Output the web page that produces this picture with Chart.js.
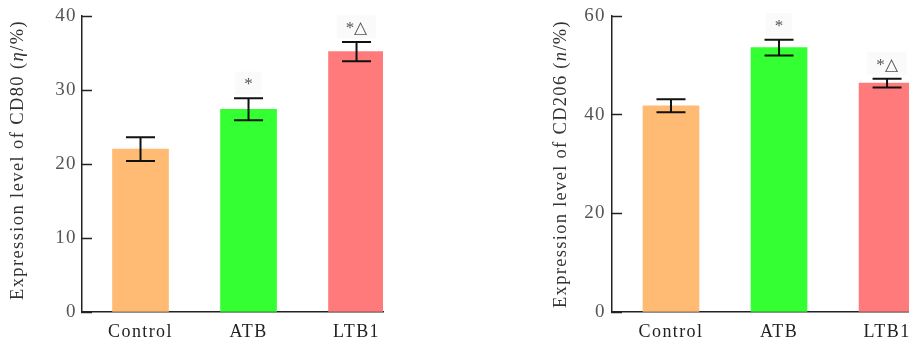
<!DOCTYPE html>
<html>
<head>
<meta charset="utf-8">
<script src="https://cdn.jsdelivr.net/npm/chart.js@4/dist/chart.umd.min.js"></script>
<style>
  html, body { margin: 0; padding: 0; background: #fff; overflow: hidden; }
  body { width: 909px; height: 344px; position: relative; }
  #boxL { position: absolute; left: 0; top: 0; width: 450px; height: 344px; }
  #boxR { position: absolute; left: 540px; top: 0; width: 400px; height: 344px; }
</style>
</head>
<body>
<div id="boxL"><canvas id="cd80"></canvas></div>
<div id="boxR"><canvas id="cd206"></canvas></div>
<script>
// Groups and measured expression levels (mean ± SD, %)
const groups = ['Control', 'ATB', 'LTB1'];
const barColors = ['#FFBB73', '#33FF33', '#FF7B7B'];

const cd80Mean = [22.0, 27.4, 35.2];
const cd80Err = [1.6, 1.5, 1.3];
const cd80Marks = ['', '*', '*△'];
const cd80Ticks = [0, 10, 20, 30, 40];

const cd206Mean = [41.8, 53.6, 46.4];
const cd206Err = [1.3, 1.6, 0.9];
const cd206Marks = ['', '*', '*△'];
const cd206Ticks = [0, 20, 40, 60];

const SERIF = '"Liberation Serif", "Times New Roman", serif';

// Wider glyph spacing for axis text
const spacing = {
  id: 'spacing',
  beforeLayout(chart) { chart.ctx.letterSpacing = '1.4px'; },
  beforeDraw(chart) { chart.ctx.letterSpacing = '1.4px'; }
};

// Error bars with caps, plus significance marks above them
const errorBars = {
  id: 'errorBars',
  afterDatasetsDraw(chart, args, o) {
    const { ctx, scales: { x, y } } = chart;
    ctx.save();
    ctx.letterSpacing = '0px';
    o.means.forEach((m, i) => {
      const cx = x.getPixelForValue(i);
      const top = y.getPixelForValue(m + o.errs[i]);
      const bot = y.getPixelForValue(m - o.errs[i]);
      ctx.strokeStyle = '#111';
      ctx.lineWidth = 2;
      ctx.beginPath();
      ctx.moveTo(cx, top); ctx.lineTo(cx, bot);
      ctx.moveTo(cx - o.cap / 2, top); ctx.lineTo(cx + o.cap / 2, top);
      ctx.moveTo(cx - o.cap / 2, bot); ctx.lineTo(cx + o.cap / 2, bot);
      ctx.stroke();
      const mark = o.marks[i];
      if (mark) {
        const ty = top - 15.5;
        ctx.font = '17px ' + SERIF;
        const w = ctx.measureText(mark).width;
        ctx.fillStyle = '#fafafa';
        ctx.fillRect(cx - w / 2 - 9, ty - 11, w + 18, 23);
        ctx.fillStyle = '#555';
        ctx.textAlign = 'center';
        ctx.textBaseline = 'middle';
        ctx.fillText(mark, cx, ty + 2);
      }
    });
    ctx.restore();
  }
};

// Rotated y-axis title with an italic symbol
const yTitle = {
  id: 'yTitle',
  afterDraw(chart, args, o) {
    const { ctx } = chart;
    ctx.save();
    ctx.fillStyle = '#333';
    ctx.textBaseline = 'middle';
    ctx.textAlign = 'left';
    ctx.letterSpacing = '0px';
    const fonts = [o.size + 'px ' + SERIF, 'italic ' + o.size + 'px ' + SERIF, o.size + 'px ' + SERIF];
    let natural = 0, chars = 0;
    o.parts.forEach((p, k) => { ctx.font = fonts[k]; natural += ctx.measureText(p).width; chars += p.length; });
    const ls = (o.length - natural) / chars;
    ctx.letterSpacing = ls + 'px';
    ctx.translate(o.x, o.y);
    ctx.rotate(-Math.PI / 2);
    let pos = -o.length / 2;
    o.parts.forEach((p, k) => {
      ctx.font = fonts[k];
      ctx.fillText(p, pos, 0);
      pos += ctx.measureText(p).width;
    });
    ctx.restore();
  }
};

function buildChart(id, means, errs, marks, yTicks, opt) {
  return new Chart(document.getElementById(id), {
    type: 'bar',
    data: {
      datasets: [{
        data: groups.map((g, i) => ({ x: i, y: means[i] })),
        backgroundColor: barColors,
        borderWidth: 0,
        barThickness: 56
      }]
    },
    options: {
      responsive: true,
      maintainAspectRatio: false,
      animation: false,
      events: [],
      layout: { padding: { top: 16, right: opt.padRight, bottom: 0, left: 0 } },
      plugins: {
        legend: { display: false },
        tooltip: { enabled: false },
        errorBars: { means, errs, marks, cap: 29 },
        yTitle: opt.title
      },
      scales: {
        x: {
          type: 'linear',
          offset: false,
          bounds: 'ticks',
          min: opt.xMin,
          max: opt.xMax,
          afterBuildTicks(s) { s.ticks = groups.map((g, i) => ({ value: i })); },
          afterFit(s) { s.height = 32; s.paddingLeft = 0; s.paddingRight = 0; },
          grid: { display: false, drawTicks: false, offset: false },
          border: { display: true, color: '#222', width: 1.5 },
          ticks: {
            autoSkip: false,
            maxRotation: 0,
            padding: 9,
            color: '#222',
            font: { family: SERIF, size: 18 },
            callback: (v) => groups[v]
          }
        },
        y: {
          min: yTicks[0],
          max: yTicks[yTicks.length - 1],
          afterBuildTicks(s) { s.ticks = yTicks.map(v => ({ value: v })); },
          afterFit(s) { s.width = opt.yWidth; s.paddingTop = 0; s.paddingBottom = 0; },
          grid: { drawOnChartArea: false, drawTicks: true, tickLength: -10, tickColor: '#222', tickWidth: 1.5 },
          border: { display: true, color: '#222', width: 1.5 },
          ticks: {
            padding: opt.tickPad,
            color: '#555',
            font: { family: SERIF, size: 19 }
          }
        }
      }
    },
    plugins: [spacing, errorBars, yTitle]
  });
}

buildChart('cd80', cd80Mean, cd80Err, cd80Marks, cd80Ticks, {
  padRight: 67, yWidth: 82, tickPad: 15,
  xMin: -0.5417, xMax: 2.245,
  title: { x: 18, y: 160, size: 18.5, length: 280, parts: ['Expression level of CD80 (', 'η', '/%)'] }
});

buildChart('cd206', cd206Mean, cd206Err, cd206Marks, cd206Ticks, {
  padRight: 0, yWidth: 72, tickPad: 16,
  xMin: -0.546, xMax: 2.49,
  title: { x: 21, y: 164, size: 18.5, length: 288, parts: ['Expression level of CD206 (', 'n', '/%)'] }
});
</script>
</body>
</html>
